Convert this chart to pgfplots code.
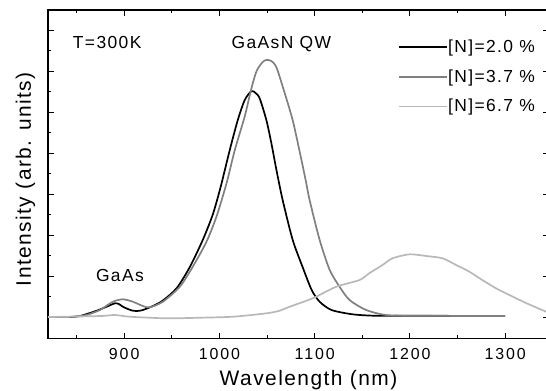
\documentclass[border=0pt]{standalone}
\usepackage{pgfplots}
\pgfplotsset{compat=1.18}
\usepackage{fontspec}
\setmainfont{Liberation Sans}
\newfontfamily\tickfont[LetterSpace=12]{Liberation Sans}
\newfontfamily\labfont[LetterSpace=7]{Liberation Sans}
\newfontfamily\annfont[LetterSpace=8]{Liberation Sans}
\definecolor{midgray}{gray}{0.5}
\definecolor{lightgray}{gray}{0.72}
\begin{document}
\begin{tikzpicture}
\begin{axis}[
  scale only axis, width=501bp, height=328.5bp,
  xmin=820, xmax=1346, ymin=-0.524, ymax=7.488,
  xtick={900,1000,1100,1200,1300},
  minor xtick={850,950,1050,1150,1250},
  ytick={0,1,...,7}, yticklabels={},
  minor ytick={0.5,1.5,...,6.5},
  tick align=inside,
  major tick length=6bp, minor tick length=3.5bp,
  every tick/.style={black, line width=1bp},
  axis line style={line width=1.2bp},
  /pgf/number format/assume math mode=true,
  /pgf/number format/1000 sep={},
  xticklabel style={font=\tickfont\fontsize{16}{16}\selectfont, inner sep=0pt, yshift=-10bp},
  xlabel={Wavelength (nm)},
  xlabel style={font=\labfont\fontsize{21}{21}\selectfont, at={(axis description cs:0.52,-0.1416)}, anchor=base, inner sep=0pt},
  ylabel={Intensity (arb. units)},
  ylabel style={font=\labfont\fontsize{21}{21}\selectfont, at={(axis description cs:-0.025,0.485)}, anchor=south, inner sep=0pt},
  legend style={draw=none, fill=none, at={(axis description cs:0.699,0.909)}, anchor=north west, inner sep=0pt,
    font=\annfont\fontsize{17.5}{17.5}\selectfont, row sep=15.5bp, nodes={inner sep=0pt},
    /tikz/every even column/.append style={column sep=5bp}},
  legend cell align=left,
  legend image code/.code={\draw[#1, line width=1.7bp] (0bp,0bp) -- (48bp,0bp);},
  every axis plot/.append style={line width=1.7bp, line join=round, smooth, tension=0.45},
]
\addplot[black] coordinates {
(820,0) (843,0) (853.5,0.024) (867.2,0.122) (874.5,0.183) (881.5,0.251) (890.2,0.334)
(894.4,0.317) (898.6,0.251) (903.9,0.195) (909.1,0.154) (914.4,0.149) (919.6,0.171)
(930.1,0.268) (940.6,0.402) (955.2,0.707) (968.9,1.22) (982.5,1.88) (993,2.50)
(1001,3.15) (1010.8,4.07) (1019.2,4.80) (1026.5,5.29) (1033.6,5.51) (1038.1,5.46)
(1042.3,5.33) (1049.3,4.80) (1054.5,4.24) (1059.8,3.59) (1066.4,2.85) (1076.9,1.88)
(1087.3,1.22) (1096.8,0.66) (1105.2,0.373) (1117.7,0.171) (1139.8,0.066) (1164.9,0.03)
(1210,0.03) (1300,0.025)
};
\addlegendentry{[N]=2.0 \%}
\addplot[midgray] coordinates {
(820,0) (840,0) (853.5,0.024) (860.6,0.049) (874.5,0.171) (888.1,0.373) (898.6,0.432)
(909.1,0.373) (919.6,0.268) (926.9,0.237) (940.6,0.373) (958.4,0.739) (972,1.227)
(986.4,1.837) (996.9,2.45) (1007.3,3.25) (1016.1,4.07) (1026.5,4.89) (1033.6,5.58)
(1039,6.0) (1045.4,6.22) (1049.6,6.27) (1054.8,6.24) (1060,6.08) (1068,5.5)
(1076.9,4.80) (1085,3.95) (1090.5,3.34) (1094.7,2.85) (1105.2,1.88) (1115.7,1.15)
(1126.1,0.739) (1136.6,0.415) (1154.1,0.171) (1175.1,0.049) (1210,0.03) (1300,0.025)
};
\addlegendentry{[N]=3.7 \%}
\addplot[lightgray] coordinates {
(820,0) (874.5,0.024) (890.2,0.049) (906,0.007) (944.4,-0.032) (979.4,-0.017)
(1014,0.007) (1049.3,0.09) (1063.2,0.154) (1073.7,0.251) (1097.8,0.456) (1122.7,0.739)
(1147.1,0.902) (1157.6,1.073) (1171.2,1.268) (1181.7,1.432) (1199.5,1.529) (1217,1.488)
(1234.1,1.432) (1248.5,1.268) (1262.4,1.105) (1276,0.902) (1290.4,0.70) (1304.4,0.537)
(1321.9,0.341) (1346,0.10)
};
\addlegendentry{[N]=6.7 \%}
\node[font=\annfont\fontsize{17.5}{17.5}\selectfont, anchor=base west, inner sep=0pt] at (axis cs:846,6.56) {T=300K};
\node[font=\annfont\fontsize{17.5}{17.5}\selectfont, anchor=base, inner sep=0pt] at (axis cs:1065,6.56) {GaAsN QW};
\node[font=\annfont\fontsize{17.5}{17.5}\selectfont, anchor=base, inner sep=0pt] at (axis cs:895.5,0.86) {GaAs};
\end{axis}
\pgfresetboundingbox
\useasboundingbox (current axis.south west) ++(-48bp,-52.5bp) rectangle ++(546bp,391bp);
\end{tikzpicture}
\end{document}
